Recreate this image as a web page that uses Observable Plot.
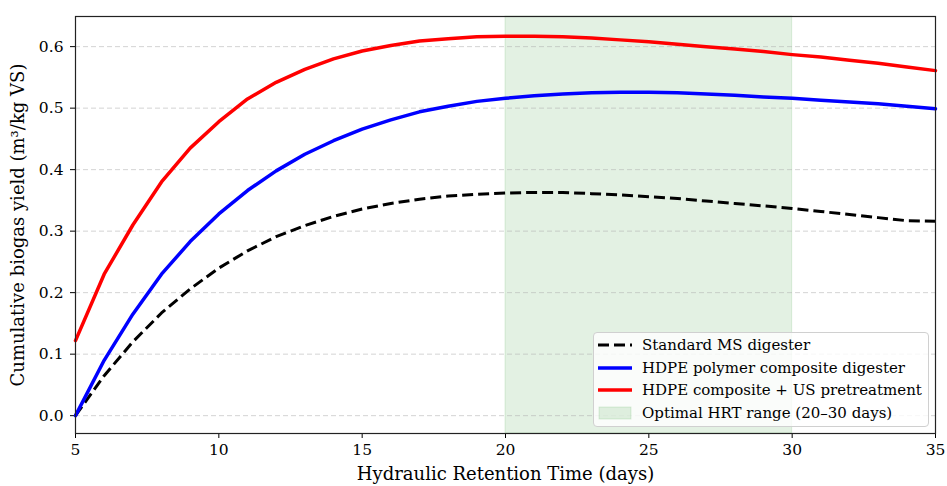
<!DOCTYPE html>
<html>
<head>
<meta charset="utf-8">
<script src="https://cdn.jsdelivr.net/npm/d3@7"></script>
<script src="https://cdn.jsdelivr.net/npm/@observablehq/plot@0.6"></script>
<style>
  body { margin: 0; background: #fff; }
  #wrap { position: relative; width: 947px; height: 486px; font-family: "DejaVu Serif", serif; }
  #legend { position: absolute; left: 593px; top: 332px; width: 336px; height: 95px; box-sizing: border-box;
    border: 1px solid #d0d0d0; border-radius: 4px; background: rgba(255,255,255,0.8); font-size: 15px; color: #000; }
  .row { position: absolute; left: 0; height: 22px; display: flex; align-items: center; }
  .row svg { margin-left: 4px; margin-right: 10px; }
</style>
</head>
<body>
<div id="wrap"></div>
<script>
const days = [5,6,7,8,9,10,11,12,13,14,15,16,17,18,19,20,21,22,23,24,25,26,27,28,29,30,31,32,33,34,35];
const standardMS = [0.0,0.065,0.12,0.167,0.206,0.24,0.268,0.291,0.309,0.324,0.336,0.345,0.352,0.357,0.360,0.362,0.363,0.363,0.361,0.359,0.356,0.353,0.349,0.345,0.341,0.337,0.332,0.327,0.322,0.317,0.316];
const hdpe = [0.0,0.09,0.165,0.23,0.283,0.328,0.366,0.398,0.425,0.447,0.466,0.481,0.494,0.503,0.511,0.516,0.520,0.523,0.525,0.526,0.526,0.525,0.523,0.521,0.518,0.516,0.513,0.510,0.507,0.503,0.499];
const hdpeUS = [0.122,0.23,0.31,0.38,0.435,0.478,0.515,0.542,0.563,0.58,0.593,0.602,0.609,0.613,0.616,0.617,0.617,0.616,0.614,0.611,0.608,0.604,0.600,0.596,0.592,0.587,0.583,0.578,0.573,0.567,0.561];
const seriesNames = ["Standard MS digester","HDPE polymer composite digester","HDPE composite + US pretreatment"];
const optimalRange = [20, 30];
const optimalLabel = "Optimal HRT range (20\u201330 days)";
const xTicks = [5,10,15,20,25,30,35];
const yTicks = [0.0,0.1,0.2,0.3,0.4,0.5,0.6];
const xLabel = "Hydraulic Retention Time (days)";
const yLabel = "Cumulative biogas yield (m\u00b3/kg VS)";

const toRows = vals => days.map((d,i) => ({x: d, y: vals[i]}));

const chart = Plot.plot({
  width: 947, height: 486,
  marginLeft: 75, marginRight: 12, marginTop: 16, marginBottom: 53,
  style: {fontFamily: "DejaVu Serif, serif", fontSize: "15.5px", color: "#000", background: "#fff"},
  x: {domain: [5, 35]},
  y: {domain: [-0.029, 0.649]},
  marks: [
    Plot.rectX([{x1: optimalRange[0], x2: optimalRange[1]}], {x1: "x1", x2: "x2", fill: "green", fillOpacity: 0.11, stroke: "green", strokeOpacity: 0.12}),
    Plot.gridY(yTicks, {stroke: "#b0b0b0", strokeOpacity: 0.55, strokeDasharray: "5,3", strokeWidth: 1}),
    Plot.axisX({ticks: xTicks, tickSize: 5, tickPadding: 5, fontSize: 15.5, tickFormat: d3.format("d"), label: xLabel, labelAnchor: "center", labelArrow: "none", labelOffset: 46}),
    Plot.axisY({ticks: yTicks, tickSize: 5, tickPadding: 7, fontSize: 15.5, tickFormat: d3.format(".1f"), label: yLabel, labelAnchor: "center", labelArrow: "none", labelOffset: 64}),
    Plot.line(toRows(standardMS), {x: "x", y: "y", stroke: "black", strokeWidth: 3, strokeDasharray: "11,5", strokeLinecap: "butt"}),
    Plot.line(toRows(hdpe), {x: "x", y: "y", stroke: "#0000ff", strokeWidth: 3.5}),
    Plot.line(toRows(hdpeUS), {x: "x", y: "y", stroke: "#ff0000", strokeWidth: 3.5}),
    Plot.frame({stroke: "#222", strokeWidth: 1.2})
  ]
});
chart.querySelectorAll('g[aria-label="x-axis label"] text, g[aria-label="y-axis label"] text').forEach(t => {
  t.setAttribute("font-size", "18px");
  t.style.fontSize = "18px";
});
const wrap = document.getElementById("wrap");
wrap.appendChild(chart);

const legend = document.createElement("div");
legend.id = "legend";
const items = [
  {label: seriesNames[0], type: "dash"},
  {label: seriesNames[1], type: "line", color: "#0000ff"},
  {label: seriesNames[2], type: "line", color: "#ff0000"},
  {label: optimalLabel, type: "patch"}
];
items.forEach((it, i) => {
  const row = document.createElement("div");
  row.className = "row";
  row.style.top = (1 + i * 22.7) + "px";
  let sw;
  if (it.type === "dash") sw = `<svg width="34" height="10"><line x1="0" y1="5" x2="34" y2="5" stroke="black" stroke-width="3" stroke-dasharray="11,5"/></svg>`;
  else if (it.type === "line") sw = `<svg width="34" height="10"><line x1="0" y1="5" x2="34" y2="5" stroke="${it.color}" stroke-width="3.5"/></svg>`;
  else sw = `<svg width="34" height="14"><rect x="1" y="1" width="32" height="12" fill="green" fill-opacity="0.11" stroke="green" stroke-opacity="0.12"/></svg>`;
  row.innerHTML = sw + `<span>${it.label}</span>`;
  legend.appendChild(row);
});
wrap.appendChild(legend);
</script>
</body>
</html>
